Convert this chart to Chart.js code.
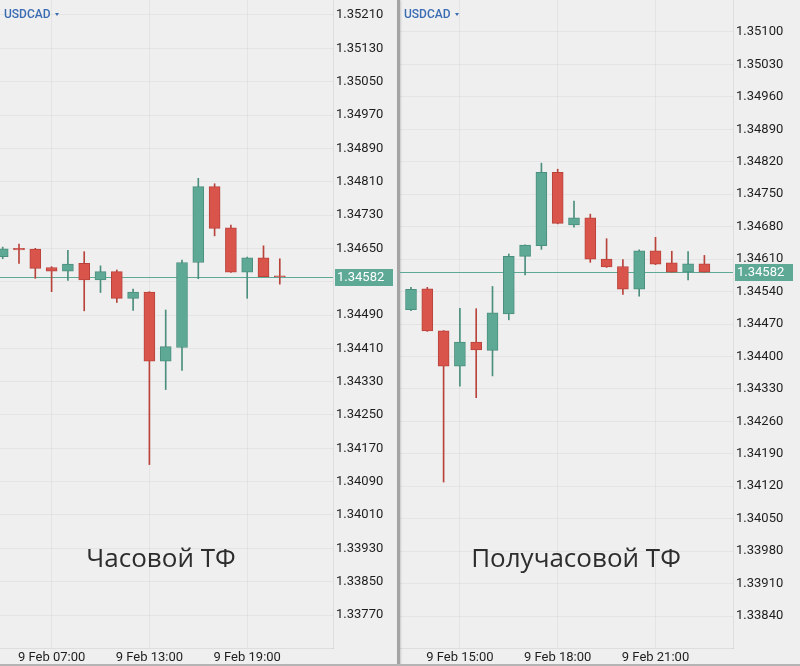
<!DOCTYPE html>
<html>
<head>
<meta charset="utf-8">
<script src="https://cdn.jsdelivr.net/npm/chart.js@4.4.1/dist/chart.umd.min.js"></script>
<style>
  html, body { margin: 0; padding: 0; background: #efefef; }
  #wrap { position: relative; width: 800px; height: 666px; overflow: hidden; background: #efefef; }
  .pane { position: absolute; top: 0; height: 666px; }
  #left { left: 0; width: 397px; }
  #right { left: 400px; width: 400px; }
  #divider { position: absolute; left: 397px; top: 0; width: 3px; height: 666px; background: #a4a4a4; box-shadow: 1px 0 2px rgba(0,0,0,0.15); }
  #bottomline { position: absolute; left: 0; top: 664px; width: 800px; height: 2px; background: #b4b4b4; }
</style>
</head>
<body>
<div id="wrap">
  <div class="pane" id="left"><canvas id="hourly" width="397" height="666"></canvas></div>
  <div id="divider"></div>
  <div class="pane" id="right"><canvas id="halfHourly" width="400" height="666"></canvas></div>
  <div id="bottomline"></div>
</div>
<script>
// hourly USDCAD, 9 Feb
const hourTimes = ['04:00', '05:00', '06:00', '07:00', '08:00', '09:00', '10:00', '11:00', '12:00',
  '13:00', '14:00', '15:00', '16:00', '17:00', '18:00', '19:00', '20:00', '21:00'];
const hourOpen  = [1.34630, 1.34650, 1.34648, 1.34604, 1.34595, 1.34614, 1.34574, 1.34594, 1.34530,
  1.34545, 1.34379, 1.34412, 1.34616, 1.34798, 1.34699, 1.34593, 1.34627, 1.34584];
const hourHigh  = [1.34653, 1.34660, 1.34650, 1.34606, 1.34645, 1.34642, 1.34608, 1.34598, 1.34552,
  1.34546, 1.34502, 1.34622, 1.34818, 1.34805, 1.34706, 1.34629, 1.34656, 1.34625];
const hourLow   = [1.34625, 1.34614, 1.34578, 1.34546, 1.34573, 1.34500, 1.34544, 1.34520, 1.34501,
  1.34131, 1.34311, 1.34357, 1.34577, 1.34680, 1.34592, 1.34530, 1.34582, 1.34564];
const hourClose = [1.34649, 1.34646, 1.34602, 1.34595, 1.34612, 1.34574, 1.34594, 1.34530, 1.34545,
  1.34379, 1.34414, 1.34616, 1.34798, 1.34698, 1.34593, 1.34627, 1.34582, 1.34582];
const hourTicks = [1.33770, 1.33850, 1.33930, 1.34010, 1.34090, 1.34170, 1.34250, 1.34330, 1.34410,
  1.34490, 1.34570, 1.34650, 1.34730, 1.34810, 1.34890, 1.34970, 1.35050, 1.35130, 1.35210];
const hourTimeTicks = [3, 9, 15];

// 30 minute USDCAD, 9 Feb
const halfTimes = ['13:30', '14:00', '14:30', '15:00', '15:30', '16:00', '16:30', '17:00', '17:30',
  '18:00', '18:30', '19:00', '19:30', '20:00', '20:30', '21:00', '21:30', '22:00', '22:30'];
const halfOpen  = [1.34501, 1.34546, 1.34455, 1.34379, 1.34431, 1.34413, 1.34492, 1.34616, 1.34639,
  1.34797, 1.34684, 1.34699, 1.34610, 1.34594, 1.34545, 1.34628, 1.34602, 1.34582, 1.34600];
const halfHigh  = [1.34549, 1.34549, 1.34456, 1.34504, 1.34503, 1.34551, 1.34621, 1.34641, 1.34817,
  1.34804, 1.34735, 1.34707, 1.34654, 1.34609, 1.34630, 1.34657, 1.34627, 1.34626, 1.34618];
const halfLow   = [1.34499, 1.34454, 1.34129, 1.34336, 1.34311, 1.34358, 1.34479, 1.34576, 1.34631,
  1.34686, 1.34679, 1.34603, 1.34592, 1.34534, 1.34530, 1.34598, 1.34582, 1.34565, 1.34582];
const halfClose = [1.34545, 1.34455, 1.34379, 1.34431, 1.34414, 1.34494, 1.34616, 1.34640, 1.34797,
  1.34687, 1.34699, 1.34610, 1.34593, 1.34545, 1.34628, 1.34599, 1.34582, 1.34600, 1.34582];
const halfTicks = [1.33840, 1.33910, 1.33980, 1.34050, 1.34120, 1.34190, 1.34260, 1.34330, 1.34400,
  1.34470, 1.34540, 1.34610, 1.34680, 1.34750, 1.34820, 1.34890, 1.34960, 1.35030, 1.35100];
const halfTimeTicks = [3, 9, 15];

const lastPrice = 1.34582;

const TEAL = '#5ea996', TEAL_DARK = '#4b8f7e';
const RED = '#d9554c', RED_DARK = '#b8433b';

Chart.defaults.font.family = 'Roboto';
Chart.defaults.font.size = 13;
Chart.defaults.color = '#1e1e1e';

// price line, price tag, symbol name and caption
const decor = {
  id: 'decor',
  beforeDatasetsDraw(chart, args, o) {
    const { ctx, chartArea } = chart;
    const y = Math.round(chart.scales.y.getPixelForValue(o.price)) + 0.5;
    ctx.save();
    ctx.strokeStyle = TEAL;
    ctx.lineWidth = 1;
    ctx.beginPath();
    ctx.moveTo(chartArea.left, y);
    ctx.lineTo(chartArea.right, y);
    ctx.stroke();
    ctx.restore();
  },
  afterDraw(chart, args, o) {
    const { ctx, chartArea } = chart;
    const y = chart.scales.y.getPixelForValue(o.price);
    ctx.save();
    ctx.fillStyle = TEAL;
    ctx.fillRect(chartArea.right + 2, Math.round(y) - 8, 58, 17);
    ctx.fillStyle = '#ffffff';
    ctx.font = '13px Roboto';
    ctx.textBaseline = 'middle';
    ctx.fillText(o.price.toFixed(5), chartArea.right + 4, Math.round(y) + 1);

    ctx.fillStyle = '#3a6cb4';
    ctx.font = '500 12px Roboto';
    ctx.textBaseline = 'alphabetic';
    ctx.fillText('USDCAD', 4, 18);
    ctx.beginPath();
    ctx.moveTo(55, 13); ctx.lineTo(59, 13); ctx.lineTo(57, 16); ctx.closePath();
    ctx.fill();

    ctx.fillStyle = '#2d2d2d';
    ctx.font = '26px "Open Sans"';
    ctx.textAlign = 'center';
    ctx.fillText(o.caption, o.captionX, 567);
    ctx.restore();
  }
};

function candleChart(id, times, open, high, low, close, yTicks, timeTicks, cfg) {
  const idx = times.map((t, i) => i);
  const up = idx.map(i => close[i] >= open[i]);
  return new Chart(document.getElementById(id), {
    type: 'bar',
    data: {
      datasets: [
        {
          label: 'body',
          data: idx.map(i => ({ x: i, y: [open[i], close[i]] })),
          backgroundColor: up.map(u => u ? TEAL : RED),
          borderColor: up.map(u => u ? TEAL_DARK : RED_DARK),
          borderWidth: 1,
          borderSkipped: false,
          barThickness: 11,
          grouped: false
        },
        {
          label: 'wick',
          data: idx.map(i => ({ x: i, y: [low[i], high[i]] })),
          backgroundColor: up.map(u => u ? TEAL_DARK : RED_DARK),
          borderWidth: 0,
          barThickness: 1,
          grouped: false
        }
      ]
    },
    options: {
      responsive: false,
      animation: false,
      layout: { padding: 0 },
      scales: {
        x: {
          type: 'linear',
          offset: false,
          min: cfg.xMin,
          max: cfg.xMax,
          grid: { color: 'rgba(0,0,0,0.045)', drawTicks: false, offset: false },
          border: { color: 'rgba(0,0,0,0.07)' },
          ticks: {
            padding: 2,
            maxRotation: 0,
            autoSkip: false,
            callback: v => '9 Feb ' + times[v]
          },
          afterBuildTicks: s => { s.ticks = timeTicks.map(v => ({ value: v })); },
          afterFit: s => { s.height = 18; s.paddingLeft = 0; s.paddingRight = 0; }
        },
        y: {
          position: 'right',
          min: cfg.yMin,
          max: cfg.yMax,
          grid: { color: 'rgba(0,0,0,0.045)', drawTicks: false },
          border: { color: 'rgba(0,0,0,0.07)' },
          ticks: {
            padding: 3,
            callback: v => v.toFixed(5)
          },
          afterBuildTicks: s => { s.ticks = yTicks.map(v => ({ value: v })); },
          afterFit: s => { s.width = cfg.axisW; s.paddingTop = 0; s.paddingBottom = 0; }
        }
      },
      plugins: {
        legend: { display: false },
        tooltip: { enabled: false },
        decor: { price: lastPrice, caption: cfg.caption, captionX: cfg.captionX }
      }
    },
    plugins: [decor]
  });
}

candleChart('hourly', hourTimes, hourOpen, hourHigh, hourLow, hourClose, hourTicks, hourTimeTicks, {
  xMin: -0.166, xMax: 20.264, yMin: 1.336908, yMax: 1.35246, axisW: 64,
  caption: 'Часовой ТФ', captionX: 161
});

candleChart('halfHourly', halfTimes, halfOpen, halfHigh, halfLow, halfClose, halfTicks, halfTimeTicks, {
  xMin: -0.675, xMax: 19.755, yMin: 1.337710, yMax: 1.351690, axisW: 67,
  caption: 'Получасовой ТФ', captionX: 176
});
</script>
</body>
</html>
